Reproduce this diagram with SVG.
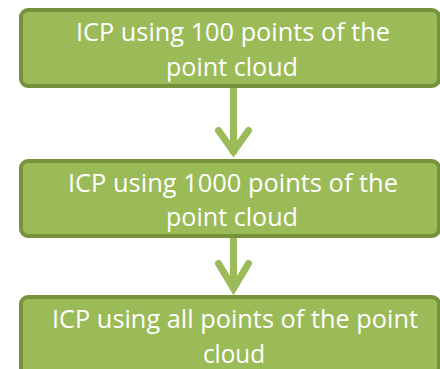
<svg xmlns="http://www.w3.org/2000/svg" width="440" height="369" viewBox="0 0 440 369">
  <style>
    .box { fill: #9BBB59; stroke: #76923C; stroke-width: 4; }
    .label { fill: #FFFFFF; font-family: "Open Sans", "Liberation Sans", sans-serif; font-size: 25.5px; text-anchor: middle; }
    .shaft { stroke: #9BBB59; stroke-width: 7; fill: none; }
    .head { stroke: #9BBB59; stroke-width: 7; fill: none; stroke-linecap: round; stroke-linejoin: miter; stroke-miterlimit: 10; }
  </style>
  <rect width="440" height="369" fill="#FFFFFF"/>
  <g id="connectors">
    <line class="shaft" x1="233.5" y1="86" x2="233.5" y2="154"/>
    <polyline class="head" points="218.5,130.5 233.5,151.5 248.5,130.5"/>
    <line class="shaft" x1="233.5" y1="236" x2="233.5" y2="290"/>
    <polyline class="head" points="218.5,263.5 233.5,288.5 248.5,263.5"/>
  </g>
  <g id="step1">
    <rect class="box" x="21" y="10" width="418" height="76" rx="7"/>
    <text class="label" x="233" y="41" textLength="314" lengthAdjust="spacingAndGlyphs">ICP using 100 points of the</text>
    <text class="label" x="232" y="76" textLength="132" lengthAdjust="spacingAndGlyphs">point cloud</text>
  </g>
  <g id="step2">
    <rect class="box" x="21" y="161" width="418" height="75" rx="7"/>
    <text class="label" x="233" y="192" textLength="330" lengthAdjust="spacingAndGlyphs">ICP using 1000 points of the</text>
    <text class="label" x="232" y="226" textLength="132" lengthAdjust="spacingAndGlyphs">point cloud</text>
  </g>
  <g id="step3">
    <rect class="box" x="21" y="297" width="418" height="78" rx="7"/>
    <text class="label" x="235" y="328" textLength="366" lengthAdjust="spacingAndGlyphs">ICP using all points of the point</text>
    <text class="label" x="234" y="363" textLength="62" lengthAdjust="spacingAndGlyphs">cloud</text>
  </g>
</svg>
